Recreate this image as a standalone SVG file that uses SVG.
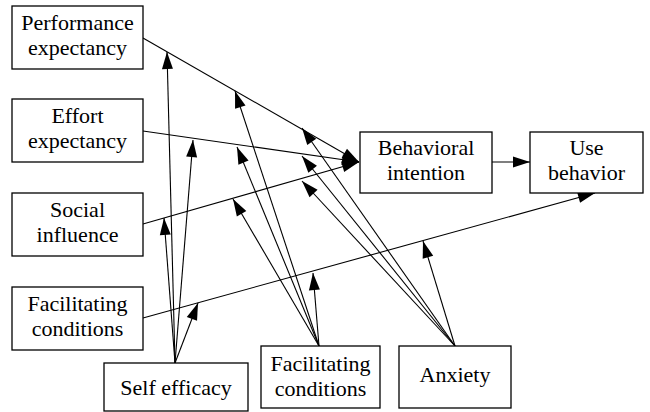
<svg xmlns="http://www.w3.org/2000/svg" width="650" height="412" viewBox="0 0 650 412">
<style>
rect.box{fill:#fff;stroke:#000;stroke-width:1.3}
#connectors line{stroke:#000;stroke-width:1.1;marker-end:url(#ah)}
</style>
<defs>
<marker id="ah" markerUnits="userSpaceOnUse" markerWidth="17" markerHeight="11" refX="17" refY="5.5" orient="auto" overflow="visible">
<path d="M0,0 L17,5.5 L0,11 z" fill="#000"/>
</marker>
</defs>
<rect width="650" height="412" fill="#fff"/>
<g id="connectors">
<line x1="143" y1="38" x2="359" y2="162"/>
<line x1="143" y1="131" x2="359" y2="162"/>
<line x1="143" y1="224" x2="359" y2="162"/>
<line x1="143" y1="318" x2="595" y2="193"/>
<line x1="492" y1="162" x2="530" y2="162"/>
<line x1="175" y1="363" x2="167" y2="52"/>
<line x1="175" y1="363" x2="193" y2="140"/>
<line x1="175" y1="363" x2="164" y2="218"/>
<line x1="175" y1="363" x2="198" y2="303"/>
<line x1="319" y1="346" x2="235" y2="91"/>
<line x1="319" y1="346" x2="237" y2="147"/>
<line x1="319" y1="346" x2="233" y2="199"/>
<line x1="319" y1="346" x2="313" y2="273"/>
<line x1="455" y1="346" x2="302" y2="128"/>
<line x1="455" y1="346" x2="302" y2="156"/>
<line x1="455" y1="346" x2="302" y2="181"/>
<line x1="455" y1="346" x2="423" y2="241"/>
</g>
<g font-family="Liberation Serif, Times New Roman, serif" font-size="22" text-anchor="middle" fill="#000">
<g id="performance-expectancy">
<rect class="box" x="12" y="6" width="131" height="63"/>
<text x="77.5" y="30">Performance</text>
<text x="77.5" y="55">expectancy</text>
</g>
<g id="effort-expectancy">
<rect class="box" x="12" y="99" width="131" height="63"/>
<text x="77.5" y="123">Effort</text>
<text x="77.5" y="148">expectancy</text>
</g>
<g id="social-influence">
<rect class="box" x="12" y="193" width="131" height="63"/>
<text x="77.5" y="217">Social</text>
<text x="77.5" y="242">influence</text>
</g>
<g id="facilitating-conditions-left">
<rect class="box" x="12" y="287" width="131" height="63"/>
<text x="77.5" y="311">Facilitating</text>
<text x="77.5" y="336">conditions</text>
</g>
<g id="behavioral-intention">
<rect class="box" x="360" y="132" width="132" height="61"/>
<text x="426" y="155">Behavioral</text>
<text x="426" y="180">intention</text>
</g>
<g id="use-behavior">
<rect class="box" x="530" y="132" width="113" height="61"/>
<text x="586.5" y="155">Use</text>
<text x="586.5" y="180">behavior</text>
</g>
<g id="self-efficacy">
<rect class="box" x="104" y="363" width="144" height="48"/>
<text x="176" y="395">Self efficacy</text>
</g>
<g id="facilitating-conditions-bottom">
<rect class="box" x="261" y="346" width="119" height="62"/>
<text x="320.5" y="371">Facilitating</text>
<text x="320.5" y="396">conditions</text>
</g>
<g id="anxiety">
<rect class="box" x="399" y="346" width="112" height="62"/>
<text x="455" y="382">Anxiety</text>
</g>
</g>
</svg>
